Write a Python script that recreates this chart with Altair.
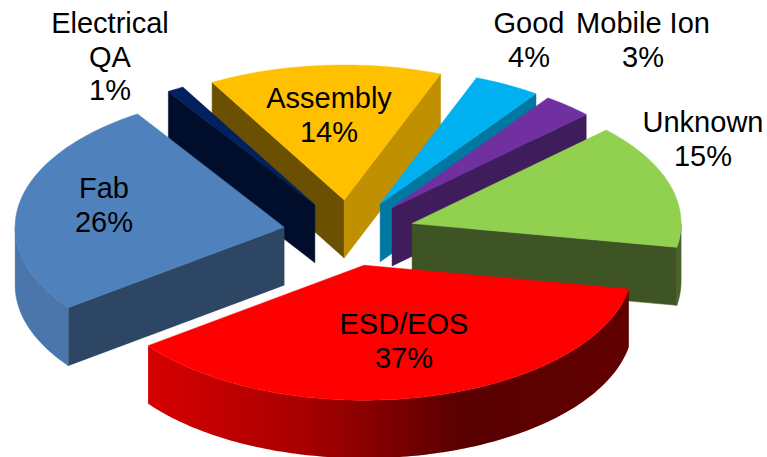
import math
import altair as alt

# Slices in clockwise order, beginning with the largest one at the lower right
NAMES = [["ESD/EOS"], ["Fab"], ["Electrical", "QA"], ["Assembly"], ["Good"], ["Mobile Ion"], ["Unknown"]]
VALUES = [37, 26, 1, 14, 4, 3, 15]

TOP_COLORS = ["#ff0000", "#4f81bd", "#002060", "#ffc000", "#00b0f0", "#7030a0", "#92d050"]
START_WALL_COLORS = [None, "#2c4664", "#000e2c", "#6a5000", None, None, None]
END_WALL_COLORS = [None, None, None, "#c09000", "#0078a2", "#3f1d5c", "#3f5424"]
OUTER_WALL_COLORS = ["red_gradient", "#4a76ab", None, None, None, None, "#4a6329"]

# Painter's order: rear slices first, front slices last
DRAW_ORDER = [3, 4, 5, 2, 6, 1, 0]

# Where each slice's caption sits: centre x and baseline of its first line
CAPTION_X = [404, 104, 110, 329, 529, 643, 703]
CAPTION_Y = [334, 198, 33, 108, 33, 33, 132]
LINE_STEP = 33.5

# Pie projection
CENTER_X, CENTER_Y = 349.0, 233.0
RADIUS_X, RADIUS_Y = 269.0, 135.0
DEPTH = 58.0
EXPLODE = 0.245
FIRST_ANGLE = 10.2

RED_WALL = alt.LinearGradient(
    gradient="linear", x1=0, x2=1, y1=0, y2=0,
    stops=[
        alt.GradientStop(color="#d80000", offset=0.0),
        alt.GradientStop(color="#a80000", offset=0.32),
        alt.GradientStop(color="#800000", offset=0.49),
        alt.GradientStop(color="#580000", offset=0.65),
        alt.GradientStop(color="#620000", offset=1.0),
    ],
)


def rim(apex, angle):
    rad = math.radians(angle)
    return [apex[0] + RADIUS_X * math.cos(rad), apex[1] + RADIUS_Y * math.sin(rad)]


def arc(apex, start, end):
    count = max(2, int(abs(end - start)) + 2)
    return [rim(apex, start + (end - start) * i / (count - 1)) for i in range(count)]


def shifted(points):
    return [[x, y + DEPTH] for x, y in points]


def face(points, fill):
    ring = points + [points[0]]
    feature = {
        "type": "Feature",
        "properties": {},
        "geometry": {"type": "Polygon", "coordinates": [ring]},
    }
    gradient = not isinstance(fill, str)
    style = {"fill": fill}
    if gradient:
        style.update(strokeOpacity=0)
    else:
        style.update(stroke=fill, strokeWidth=0.5)
    return (
        alt.Chart(alt.Data(values=[feature]))
        .mark_geoshape(**style)
        .project(type="identity", scale=1, translate=[0, 0])
    )


def slice_faces(i):
    total = sum(VALUES)
    start = FIRST_ANGLE + 360.0 * sum(VALUES[:i]) / total
    end = start + 360.0 * VALUES[i] / total
    mid = math.radians((start + end) / 2)
    apex = [
        CENTER_X + EXPLODE * RADIUS_X * math.cos(mid),
        CENTER_Y + EXPLODE * RADIUS_Y * math.sin(mid),
    ]
    layers = []

    # Cut faces that turn towards the viewer
    if START_WALL_COLORS[i]:
        edge = [apex, rim(apex, start)]
        layers.append(face(edge + shifted(edge)[::-1], START_WALL_COLORS[i]))
    if END_WALL_COLORS[i]:
        edge = [apex, rim(apex, end)]
        layers.append(face(edge + shifted(edge)[::-1], END_WALL_COLORS[i]))

    # Curved outer wall, on the front half of the ellipse only
    if OUTER_WALL_COLORS[i]:
        for low, high in ((0, 180), (360, 540)):
            a, b = max(start, low), min(end, high)
            if a < b:
                curve = arc(apex, a, b)
                fill = RED_WALL if OUTER_WALL_COLORS[i] == "red_gradient" else OUTER_WALL_COLORS[i]
                layers.append(face(curve + shifted(curve)[::-1], fill))

    layers.append(face([apex] + arc(apex, start, end), TOP_COLORS[i]))
    return layers


rows = []
for i, lines in enumerate(NAMES):
    for j, line in enumerate(lines + [f"{VALUES[i]}%"]):
        rows.append({"x": CAPTION_X[i], "y": CAPTION_Y[i] + j * LINE_STEP, "label": line})

captions = (
    alt.Chart(alt.Data(values=rows))
    .mark_text(font="Liberation Sans", fontSize=29, color="#000000", align="center", baseline="alphabetic")
    .encode(
        x=alt.X("x:Q", scale=alt.Scale(domain=[0, 767], range=[0, 767]), axis=None),
        y=alt.Y("y:Q", scale=alt.Scale(domain=[0, 457], range=[0, 457]), axis=None),
        text="label:N",
    )
)

layers = [layer for i in DRAW_ORDER for layer in slice_faces(i)]

chart = (
    alt.layer(*layers, captions)
    .properties(
        width=767,
        height=457,
        padding=0,
        autosize=alt.AutoSizeParams(type="none"),
        background="#ffffff",
    )
    .configure_view(stroke=None)
)

chart.save("out.html", embed_options={"renderer": "svg", "actions": False})
